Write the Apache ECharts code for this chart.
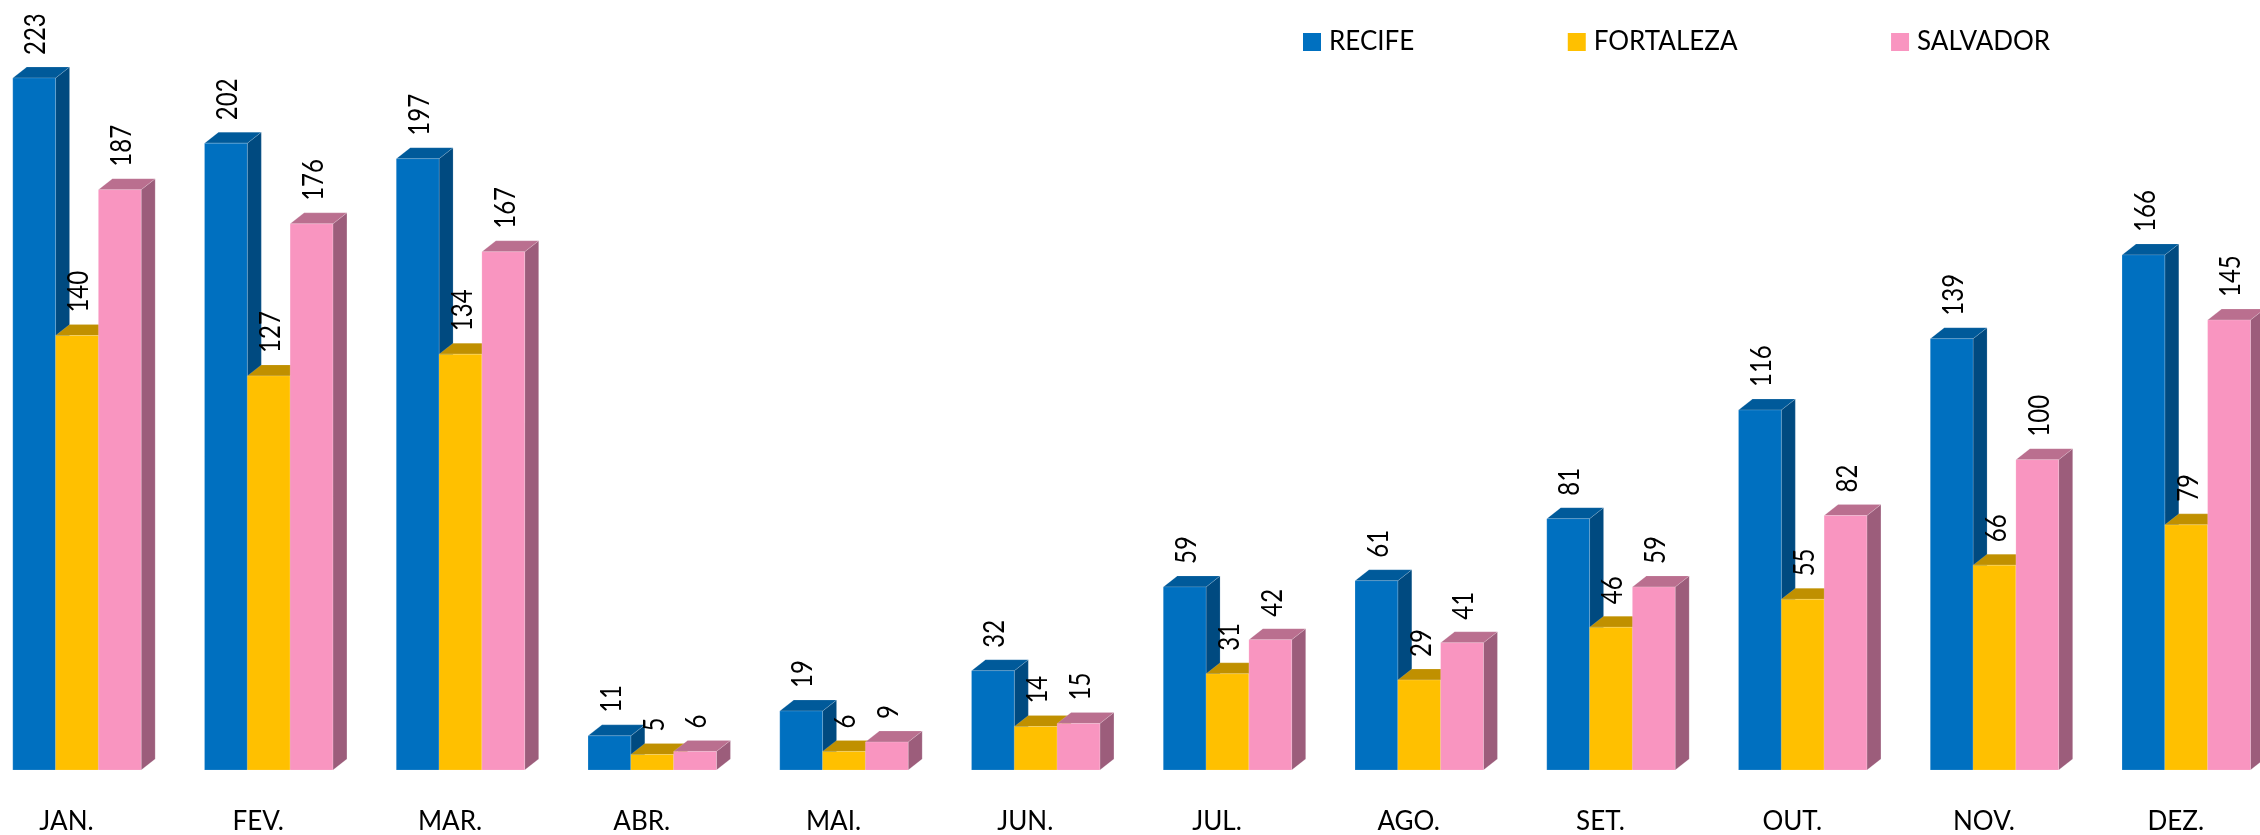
<!DOCTYPE html>
<html>
<head>
<meta charset="utf-8">
<style>
  html,body{margin:0;padding:0;background:#fff}
  #chart{width:2260px;height:835px}
</style>
<script src="https://cdn.jsdelivr.net/npm/echarts@6/dist/echarts.min.js"></script>
</head>
<body>
<div id="chart"></div>
<script>
const months = ["JAN.","FEV.","MAR.","ABR.","MAI.","JUN.","JUL.","AGO.","SET.","OUT.","NOV.","DEZ."];
const recife = [223,202,197,11,19,32,59,61,81,116,139,166];
const fortaleza = [140,127,134,5,6,14,31,29,46,55,66,79];
const salvador = [187,176,167,6,9,15,42,41,59,82,100,145];

const FONT = "Lato";
const DEPTH_X = 14, DEPTH_Y = 11;
const EDGE = "rgba(255,255,255,0.15)";

// front, top and side faces of a fake 3d column
const column = (index, front, top, side) => (params, api) => {
    const base = api.coord([api.value(0), 0]);
    const head = api.coord([api.value(0), api.value(1)]);
    const w = api.size([1, 0])[0] * 42.8 / 191.75;
    const x = base[0] + (index - 1.5) * w;
    const y = head[1];
    const b = base[1];
    return {
        type: "group",
        children: [
            {type: "polygon", shape: {points: [[x + w, y], [x + w + DEPTH_X, y - DEPTH_Y], [x + w + DEPTH_X, b - DEPTH_Y], [x + w, b]]}, style: {fill: side, stroke: EDGE, lineWidth: 1}},
            {type: "polygon", shape: {points: [[x, y], [x + DEPTH_X, y - DEPTH_Y], [x + w + DEPTH_X, y - DEPTH_Y], [x + w, y]]}, style: {fill: top, stroke: EDGE, lineWidth: 1}},
            {type: "rect", shape: {x: x, y: y, width: w, height: b - y}, style: {fill: front, stroke: EDGE, lineWidth: 1}},
            {type: "text", z2: 100, x: x + w / 2 + 2, y: y - DEPTH_Y - 12, rotation: Math.PI / 2, scaleY: 1.2,
                style: {text: String(api.value(1)), fill: "#000", font: "24px " + FONT, align: "left", verticalAlign: "middle"}}
        ]
    };
};

const makeSeries = (name, values, index, front, top, side) => ({
    name,
    type: "custom",
    renderItem: column(index, front, top, side),
    encode: {x: 0, y: 1},
    itemStyle: {color: front},
    data: values.map((v, i) => [i, v])
});

const chart = echarts.init(document.getElementById("chart"));
chart.setOption({
    animation: false,
    backgroundColor: "#fff",
    legend: {
        left: 1303, top: 29, padding: 0,
        itemWidth: 18, itemHeight: 18, itemGap: 153.5,
        icon: "rect",
        textStyle: {fontFamily: FONT, fontSize: 26, color: "#000", padding: [0, 0, 0, 3]},
        data: ["RECIFE", "FORTALEZA", "SALVADOR"]
    },
    grid: {left: -18.9, width: 2301, top: 78, height: 692, outerBoundsMode: "none"},
    xAxis: {
        type: "category",
        data: months,
        axisLine: {show: false},
        axisTick: {show: false},
        axisLabel: {fontFamily: FONT, fontSize: 26, color: "#000", margin: 39, padding: [0, 21, 0, 0]}
    },
    yAxis: {type: "value", min: 0, max: 223, show: false},
    series: [
        makeSeries("RECIFE", recife, 0, "#0070C0", "#005A9A", "#004A80"),
        makeSeries("FORTALEZA", fortaleza, 1, "#FFC000", "#C09000", "#A67F00"),
        makeSeries("SALVADOR", salvador, 2, "#F995C0", "#BA6F8F", "#9C5D7B")
    ]
});
</script>
</body>
</html>
